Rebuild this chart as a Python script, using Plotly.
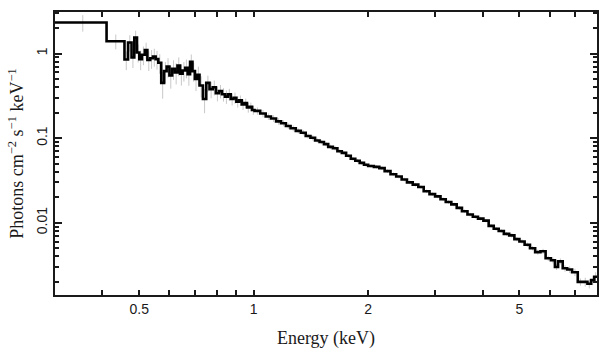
import math
import plotly.graph_objects as go

# Bin edges (keV)
edges = [0.300, 0.410, 0.457, 0.467, 0.477, 0.485, 0.493, 0.500, 0.508, 0.517,
         0.525, 0.534, 0.543, 0.552, 0.561, 0.571, 0.581, 0.590, 0.600, 0.610,
         0.620, 0.630, 0.640, 0.650, 0.660, 0.670, 0.680, 0.690, 0.700, 0.710,
         0.720, 0.735, 0.750, 0.765, 0.780, 0.795, 0.810, 0.825, 0.840, 0.855,
         0.870, 0.885, 0.900, 0.915, 0.930, 0.945, 0.960, 0.975, 0.990,
         1.005, 1.04, 1.075, 1.11, 1.145, 1.18, 1.215, 1.25, 1.29, 1.33,
         1.37, 1.41, 1.45, 1.49, 1.53, 1.57, 1.615, 1.66, 1.705, 1.75,
         1.80, 1.85, 1.90, 1.95,
         2.00, 2.07, 2.14, 2.21, 2.29, 2.37, 2.45, 2.53, 2.62, 2.71,
         2.80, 2.90, 3.00, 3.10, 3.20, 3.31, 3.42, 3.53, 3.65, 3.77, 3.89,
         4.02, 4.15, 4.28, 4.41, 4.55, 4.70, 4.85, 5.00, 5.16, 5.33,
         5.50, 5.68, 5.86, 6.05, 6.20, 6.32, 6.50, 6.68, 6.88, 7.12,
         7.35, 7.55, 7.72, 7.87, 8.00]

# Flux (photons cm^-2 s^-1 keV^-1) per bin
flux = [2.33, 1.40, 0.85, 1.35, 0.90, 1.55, 1.03, 0.86, 0.97, 1.10,
        0.84, 0.88, 0.92, 0.86, 0.78, 0.45, 0.62, 0.70, 0.55, 0.66,
        0.60, 0.72, 0.58, 0.63, 0.68, 0.57, 0.80, 0.62, 0.50, 0.56,
        0.42, 0.29, 0.45, 0.38, 0.40, 0.34, 0.36, 0.33, 0.31, 0.33,
        0.29, 0.30, 0.27, 0.28, 0.25, 0.26, 0.23, 0.235, 0.215,
        0.210, 0.196, 0.180, 0.171, 0.158, 0.150, 0.139, 0.131, 0.122, 0.116,
        0.106, 0.101, 0.094, 0.090, 0.085, 0.079, 0.076, 0.070, 0.067, 0.062,
        0.057, 0.054, 0.051, 0.0485,
        0.0468, 0.0458, 0.0442, 0.0408, 0.0375, 0.0352, 0.0325, 0.0300, 0.0282, 0.0265,
        0.0236, 0.0218, 0.0205, 0.0190, 0.0176, 0.0165, 0.0150, 0.0137, 0.0125, 0.0118, 0.0112,
        0.0106, 0.0092, 0.0085, 0.0080, 0.0074, 0.0071, 0.0064, 0.0060, 0.0055, 0.0050,
        0.0045, 0.0046, 0.0038, 0.0036, 0.0030, 0.0035, 0.0029, 0.0028, 0.0026, 0.0020,
        0.0020, 0.0019, 0.0021, 0.0023]

# Relative 1-sigma errors per bin
rel_err = [0.22, 0.20, 0.25, 0.22, 0.25, 0.20, 0.24, 0.26, 0.25, 0.22,
           0.26, 0.25, 0.24, 0.25, 0.26, 0.35, 0.28, 0.26, 0.30, 0.26,
           0.28, 0.25, 0.28, 0.26, 0.25, 0.27, 0.22, 0.25, 0.28, 0.25,
           0.28, 0.32, 0.22, 0.22, 0.20, 0.20, 0.18, 0.18, 0.18, 0.16,
           0.16, 0.15, 0.15, 0.14, 0.14, 0.13, 0.13, 0.12, 0.12,
           0.10, 0.10, 0.09, 0.09, 0.09, 0.08, 0.08, 0.08, 0.07, 0.07,
           0.07, 0.07, 0.06, 0.06, 0.06, 0.06, 0.06, 0.05, 0.05, 0.05,
           0.05, 0.05, 0.05, 0.05,
           0.05, 0.05, 0.05, 0.05, 0.05, 0.05, 0.05, 0.05, 0.05, 0.05,
           0.05, 0.05, 0.05, 0.05, 0.05, 0.05, 0.05, 0.05, 0.05, 0.05, 0.05,
           0.05, 0.05, 0.05, 0.05, 0.05, 0.06, 0.06, 0.06, 0.06, 0.06,
           0.07, 0.07, 0.07, 0.08, 0.08, 0.08, 0.09, 0.09, 0.10, 0.10,
           0.12, 0.12, 0.13, 0.13]

x_tickvals = [0.3, 0.4, 0.5, 0.6, 0.7, 0.8, 0.9, 1, 2, 3, 4, 5, 6, 7, 8]
x_ticklabels = ["", "", "0.5", "", "", "", "", "1", "2", "", "", "5", "", "", ""]
y_ticks = [0.01, 0.1, 1]
y_ticklabels = ["0.01", "0.1", "1"]
y_minor = [0.002, 0.003, 0.004, 0.005, 0.006, 0.007, 0.008, 0.009,
           0.02, 0.03, 0.04, 0.05, 0.06, 0.07, 0.08, 0.09,
           0.2, 0.3, 0.4, 0.5, 0.6, 0.7, 0.8, 0.9, 2, 3]

centers = [0.5 * (edges[i] + edges[i + 1]) for i in range(len(flux))]
errs = [f * r for f, r in zip(flux, rel_err)]

fig = go.Figure()
fig.add_trace(go.Scatter(
    x=centers, y=flux, mode="markers",
    marker=dict(size=0.1, color="rgba(0,0,0,0)"),
    error_y=dict(type="data", array=errs, visible=True, color="#c8c8c8",
                 thickness=1, width=0),
    hoverinfo="skip"))
fig.add_trace(go.Scatter(
    x=edges, y=flux + [flux[-1]], mode="lines",
    line=dict(shape="hv", color="black", width=2.6)))

axis_col = "#1a1a1a"
fig.update_layout(
    width=609, height=357,
    margin=dict(l=55, r=12, t=12, b=62, autoexpand=False),
    plot_bgcolor="white", paper_bgcolor="white",
    showlegend=False,
    xaxis=dict(
        type="log", range=[math.log10(0.3), math.log10(8.0)],
        tickmode="array", tickvals=x_tickvals, ticktext=x_ticklabels,
        ticks="inside", ticklen=5, tickwidth=1.5, tickcolor=axis_col,
        showline=True, linewidth=2, linecolor=axis_col, mirror="ticks",
        showgrid=False, zeroline=False, automargin=False,
        tickfont=dict(family="Liberation Sans", size=14, color=axis_col),
        title=dict(text="Energy (keV)",
                   font=dict(family="Liberation Serif", size=18, color=axis_col),
                   standoff=16),
    ),
    yaxis=dict(
        type="log", range=[math.log10(0.0014), math.log10(3.1)],
        tickmode="array", tickvals=y_ticks, ticktext=y_ticklabels,
        tickangle=-90,
        ticks="inside", ticklen=7, tickwidth=1.5, tickcolor=axis_col,
        showline=True, linewidth=2, linecolor=axis_col, mirror="ticks",
        showgrid=False, zeroline=False, automargin=False,
        tickfont=dict(family="Liberation Sans", size=14, color=axis_col),
        minor=dict(tickmode="array", tickvals=y_minor, ticks="inside",
                   ticklen=4, tickwidth=1.5, tickcolor=axis_col, showgrid=False),
        title=dict(text="Photons cm<sup>\u22122</sup> s<sup>\u22121</sup> keV<sup>\u22121</sup>",
                   font=dict(family="Liberation Serif", size=18, color=axis_col),
                   standoff=6),
    ),
)

fig.write_html("out.html", config={"displayModeBar": False},
               post_script="document.body.style.margin='0';document.body.style.padding='0';")
